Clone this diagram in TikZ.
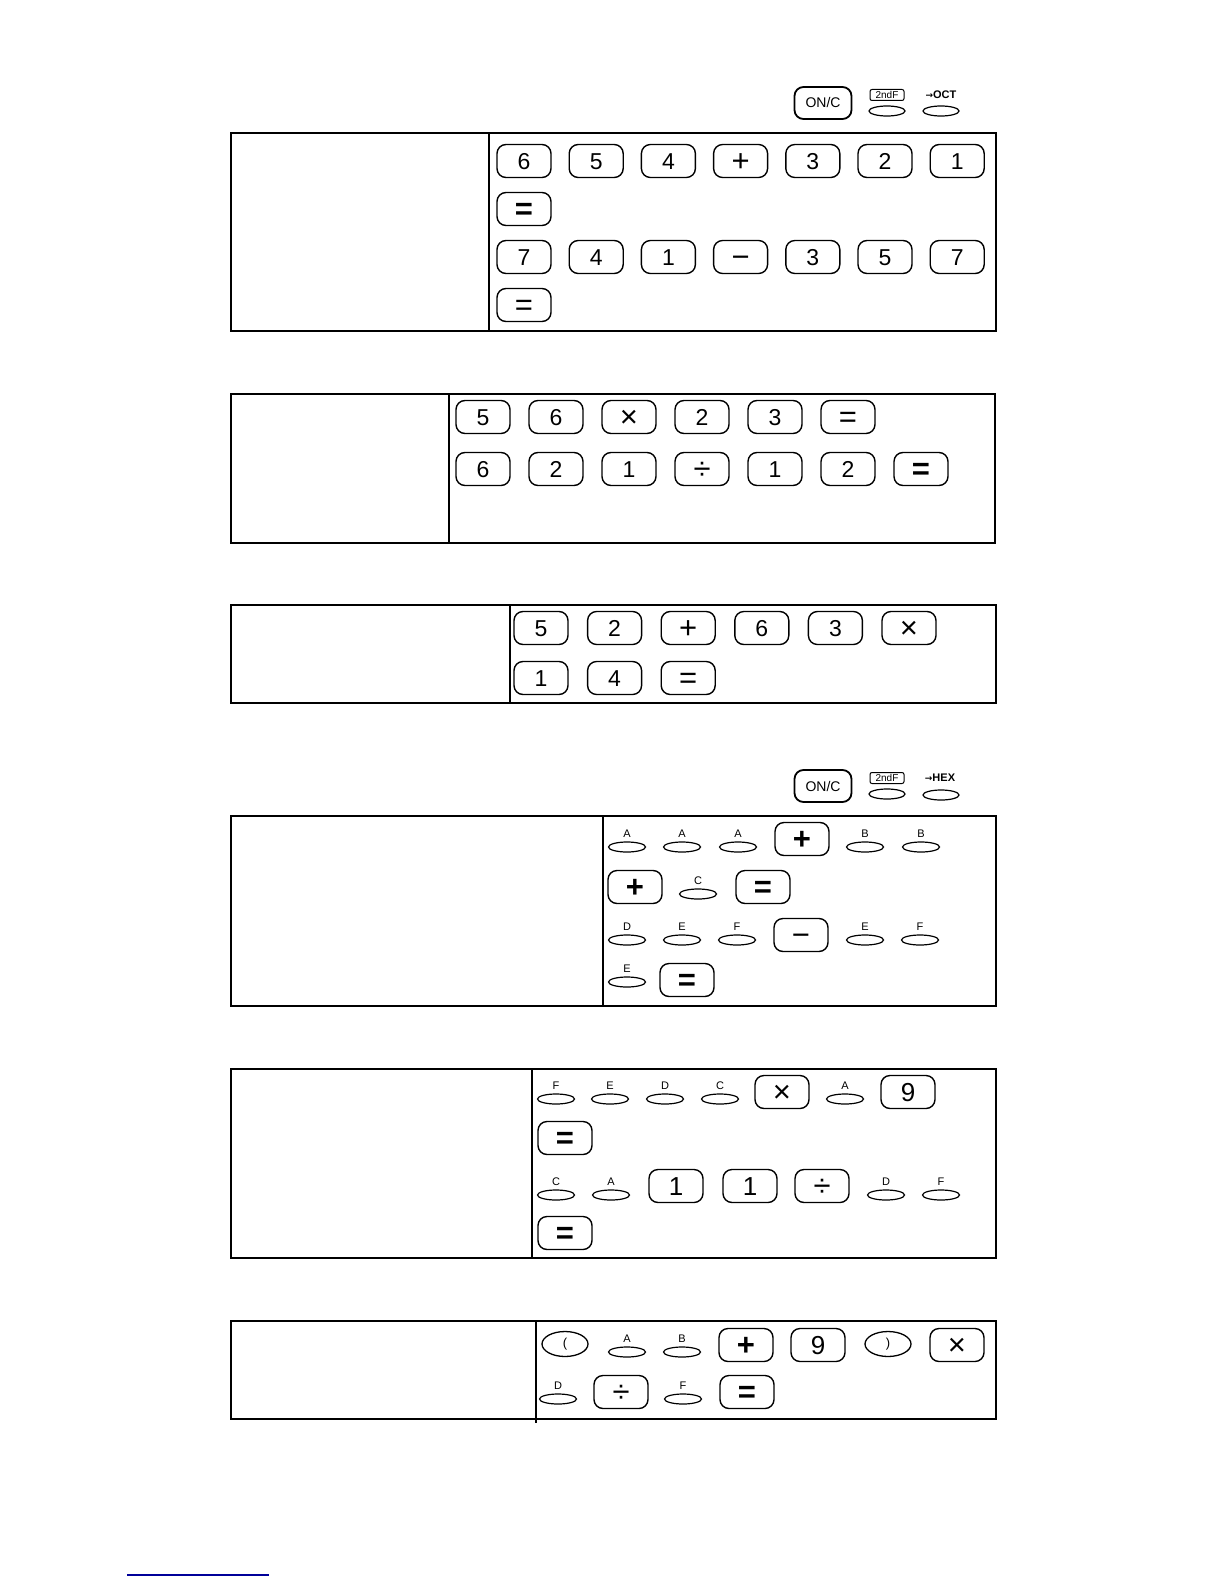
\documentclass[tikz,border=0pt]{standalone}
\usepackage{fontspec}
\setmainfont{Liberation Sans}
\newfontfamily\arrowfont{DejaVu Sans}
\usepackage{tikz}
\usetikzlibrary{shapes.geometric, positioning}

\tikzset{
  frame/.style={line width=2.2pt, black},
  key/.style={draw, line width=1.4pt, rounded corners=9pt, minimum width=54pt,
    minimum height=33pt, inner sep=0pt, text height=16.5pt, text depth=0pt,
    font=\fontsize{23}{23}\selectfont},
  opkey/.style={key, text height=21pt, font=\fontsize{31}{31}\selectfont},
  opsym/.style={opkey, draw=none},
  numkey/.style={key, text height=18.5pt, font=\fontsize{26}{26}\selectfont},
  bigkey/.style={key, line width=1.8pt, minimum width=57pt, minimum height=32pt,
    text height=10pt, font=\fontsize{14}{14}\selectfont},
  parkey/.style={draw, ellipse, line width=1.3pt, minimum width=46pt,
    minimum height=25pt, inner sep=0pt, font=\fontsize{13}{13}\selectfont},
  hexkey/.style={draw, ellipse, line width=1.2pt, minimum width=37pt,
    minimum height=10pt, inner sep=0pt},
  hexlbl/.style={font=\fontsize{11}{11}\selectfont, inner sep=0pt},
  fnbox/.style={draw, line width=1pt, rounded corners=2pt, minimum width=34pt,
    minimum height=11pt, inner sep=0pt, font=\fontsize{10}{10}\selectfont},
  modelbl/.style={font=\fontsize{11}{11}\selectfont\bfseries, inner sep=0pt},
}

% one lettered key: name, position, letter
\newcommand{\hexk}[3]{%
  \node[hexkey] (#1) at (#2) {};
  \node[hexlbl, above=4pt of #1] (#1t) {#3};
}

\begin{document}
\begin{tikzpicture}[x=1pt, y=-1pt]
  \useasboundingbox (0,0) rectangle (1224,1584);

  % ---- OCT mode keys ----
  \node[bigkey] (onc1) at (823,103) {ON/C};
  \node[fnbox] (snd1) at (887,95) {2ndF};
  \node[hexkey, minimum width=36pt] (snd1k) at (887,111) {};
  \node[modelbl] (oct1) at (941,95) {{\arrowfont\fontsize{9}{9}\selectfont →}OCT};
  \node[hexkey, minimum width=36pt] (oct1k) at (941,111) {};

  % ---- box 1 : 654+321 / 741-357 ----
  \draw[frame] (231,133) rectangle (996,331);
  \draw[frame] (489,133) -- (489,331);
  \foreach \t [count=\i] in {6,5,4,,3,2,1}
    \node[key] (a\i) at ({524+72.2*(\i-1)},161) {\t};
  \node[opsym] at (a4.center) {+};
  \node[opkey] (a8) at (524,209) {\textbf{=}};
  \foreach \t [count=\i] in {7,4,1,,3,5,7}
    \node[key] (b\i) at ({524+72.2*(\i-1)},257) {\t};
  \node[opsym] at (b4.center) {−};
  \node[opkey] (b8) at (524,305) {=};

  % ---- box 2 : 56x23 / 621/12 ----
  \draw[frame] (231,394) rectangle (995,543);
  \draw[frame] (449,394) -- (449,543);
  \foreach \t [count=\i] in {5,6,,2,3,}
    \node[key] (c\i) at ({483+73*(\i-1)},417) {\t};
  \node[opsym] at (c3.center) {×};
  \node[opsym] at (c6.center) {=};
  \foreach \t [count=\i] in {6,2,1,,1,2,}
    \node[key] (d\i) at ({483+73*(\i-1)},469) {\t};
  \node[opsym] at (d4.center) {÷};
  \node[opsym] at (d7.center) {\textbf{=}};

  % ---- box 3 : 52+63x14 ----
  \draw[frame] (231,605) rectangle (996,703);
  \draw[frame] (510,605) -- (510,703);
  \foreach \t [count=\i] in {5,2,,6,3,}
    \node[key] (e\i) at ({541+73.6*(\i-1)},628) {\t};
  \node[opsym] at (e3.center) {+};
  \node[opsym] at (e6.center) {×};
  \foreach \t [count=\i] in {1,4,}
    \node[key] (f\i) at ({541+73.6*(\i-1)},678) {\t};
  \node[opsym] at (f3.center) {=};

  % ---- HEX mode keys ----
  \node[bigkey] (onc2) at (823,786) {ON/C};
  \node[fnbox] (snd2) at (887,778) {2ndF};
  \node[hexkey, minimum width=36pt] (snd2k) at (887,794) {};
  \node[modelbl] (hex2) at (940,778) {{\arrowfont\fontsize{9}{9}\selectfont →}HEX};
  \node[hexkey, minimum width=36pt] (hex2k) at (941,795) {};

  % ---- box 4 : AAA+BB+C / DEF-EFE ----
  \draw[frame] (231,816) rectangle (996,1006);
  \draw[frame] (603,816) -- (603,1006);
  \hexk{g1}{627,847}{A}
  \hexk{g2}{682,847}{A}
  \hexk{g3}{738,847}{A}
  \node[opkey] (g4) at (802,839) {\textbf{+}};
  \hexk{g5}{865,847}{B}
  \hexk{g6}{921,847}{B}
  \node[opkey] (h1) at (635,887) {\textbf{+}};
  \hexk{h2}{698,894}{C}
  \node[opkey] (h3) at (763,887) {\textbf{=}};
  \hexk{i1}{627,940}{D}
  \hexk{i2}{682,940}{E}
  \hexk{i3}{737,940}{F}
  \node[opkey] (i4) at (801,935) {−};
  \hexk{i5}{865,940}{E}
  \hexk{i6}{920,940}{F}
  \hexk{j1}{627,982}{E}
  \node[opkey] (j2) at (687,980) {\textbf{=}};

  % ---- box 5 : FEDCxA9 / CA11/DF ----
  \draw[frame] (231,1069) rectangle (996,1258);
  \draw[frame] (532,1069) -- (532,1258);
  \hexk{k1}{556,1099}{F}
  \hexk{k2}{610,1099}{E}
  \hexk{k3}{665,1099}{D}
  \hexk{k4}{720,1099}{C}
  \node[opkey] (k5) at (782,1092) {×};
  \hexk{k6}{845,1099}{A}
  \node[numkey] (k7) at (908,1092) {9};
  \node[opkey] (l1) at (565,1138) {\textbf{=}};
  \hexk{m1}{556,1195}{C}
  \hexk{m2}{611,1195}{A}
  \node[numkey] (m3) at (676,1186) {1};
  \node[numkey] (m4) at (750,1186) {1};
  \node[opkey] (m5) at (822,1186) {÷};
  \hexk{m6}{886,1195}{D}
  \hexk{m7}{941,1195}{F}
  \node[opkey] (n1) at (565,1233) {\textbf{=}};

  % ---- box 6 : (AB+9)xD/F ----
  \draw[frame] (231,1321) rectangle (996,1419);
  \draw[frame] (536,1321) -- (536,1423);
  \node[parkey] (o1) at (565,1344) {(};
  \hexk{o2}{627,1352}{A}
  \hexk{o3}{682,1352}{B}
  \node[opkey] (o4) at (746,1345) {\textbf{+}};
  \node[numkey] (o5) at (818,1345) {9};
  \node[parkey] (o6) at (888,1344) {)};
  \node[opkey] (o7) at (957,1345) {×};
  \hexk{p1}{558,1399}{D}
  \node[opkey] (p2) at (621,1392) {÷};
  \hexk{p3}{683,1399}{F}
  \node[opkey] (p4) at (747,1392) {\textbf{=}};

  % footnote rule
  \coordinate (fl) at (127,1575);
  \coordinate (fr) at (269,1575);
  \draw[line width=1.2pt, blue!60!black] (fl) -- (fr);
\end{tikzpicture}
\end{document}
